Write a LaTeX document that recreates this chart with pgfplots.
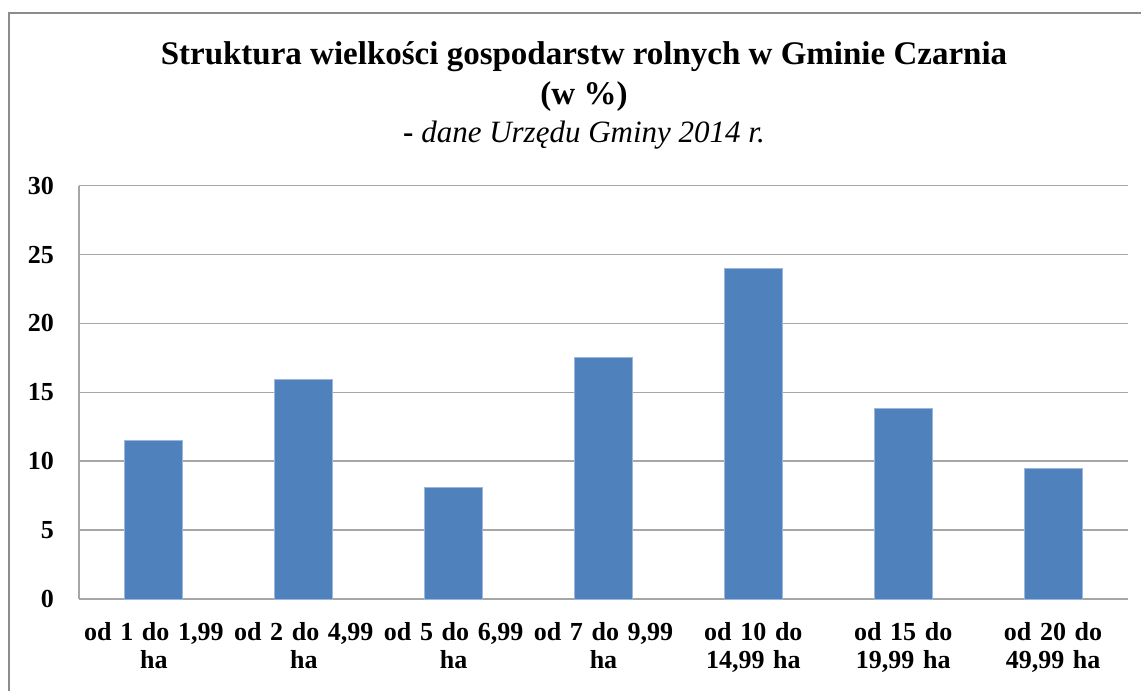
\documentclass[border=0pt]{standalone}
\usepackage{fontspec}
\setmainfont{Liberation Serif}
\usepackage{pgfplots}
\pgfplotsset{compat=1.18}
\definecolor{barblue}{HTML}{4F81BD}
\definecolor{baredge}{HTML}{9DB7DC}
\definecolor{gridgray}{HTML}{A6A6A6}
\definecolor{framegray}{HTML}{8C8C8C}
\begin{document}
\begin{tikzpicture}[x=1pt,y=1pt]
\useasboundingbox (-39.5,-46) rectangle (531,299.5);
\fill[white] (-39.5,-46) rectangle (531,299.5);
\draw[framegray, line width=1.2pt] (-35,-60) -- (-35,293) -- (560,293);
\begin{axis}[
  at={(0,0)}, anchor=south west,
  scale only axis,
  width=524.5pt, height=206.65pt,
  ymin=0, ymax=30, ytick={0,5,...,30},
  xmin=-0.5, xmax=6.5,
  xtick={0,1,2,3,4,5,6},
  xticklabels={{od 1 do 1,99\\ha},{od 2 do 4,99\\ha},{od 5 do 6,99\\ha},{od 7 do 9,99\\ha},{od 10 do\\14,99 ha},{od 15 do\\19,99 ha},{od 20 do\\49,99 ha}},
  major tick length=0,
  ymajorgrids,
  grid style={gridgray, line width=0.75pt},
  axis line style={gridgray, line width=0.75pt},
  axis x line*=bottom,
  axis y line*=left,
  /pgf/number format/assume math mode=true,
  yticklabel style={font=\bfseries\fontsize{13}{14}\selectfont, xshift=-9pt},
  xticklabel style={font=\bfseries\fontsize{13}{14}\selectfont, align=center, text width=75pt, yshift=-8pt},
  ybar, bar width=29pt,
  clip=false,
]
\addplot[fill=barblue, draw=baredge, line width=0.5pt] coordinates {
  (0,11.5) (1,15.9) (2,8.1) (3,17.5) (4,24.0) (5,13.8) (6,9.5)
};
\end{axis}
\node[font=\bfseries\fontsize{16.5}{18}\selectfont] at (252.5,271) {Struktura wielkości gospodarstw rolnych w Gminie Czarnia};
\node[font=\bfseries\fontsize{16.5}{18}\selectfont] at (252.5,251) {(w \%)};
\node[font=\fontsize{15.5}{18}\selectfont] at (252.5,232) {\textbf{-} \textit{dane Urzędu Gminy 2014 r.}};
\end{tikzpicture}
\end{document}
